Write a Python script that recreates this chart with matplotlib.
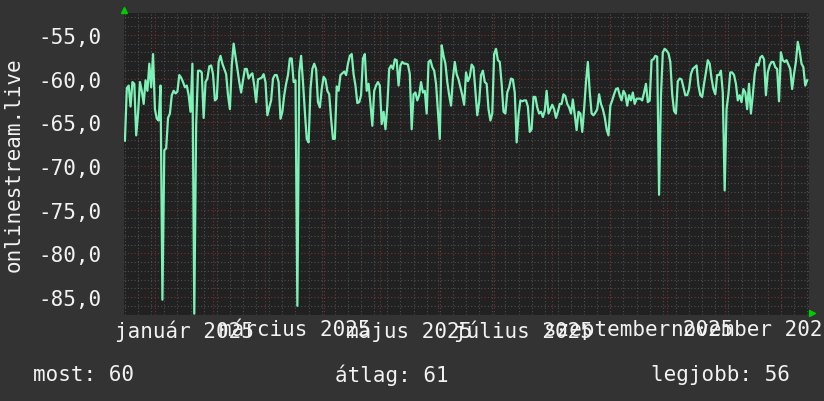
import numpy as np
import pandas as pd
import matplotlib
matplotlib.use('Agg')
import matplotlib.pyplot as plt
import matplotlib.dates as mdates

# napi jelerősség (dBm), 2024-12-15-től
start_date = '2024-12-15'
rssi = [
    np.nan, -67.1, -61.1, -60.8, -63.2, -60.4, -60.6, -66.5, -64.0, -60.4,
    -61.4, -62.9, -60.2, -61.4, -58.3, -61.0, -57.2, -63.5, -64.6, -64.8,
    -60.8, -85.3, -68.2, -68.0, -64.5, -64.0, -61.9, -61.4, -61.7, -61.5,
    -59.6, -59.9, -60.4, -61.0, -60.8, -61.9, -63.8, -58.3, -86.9, -65.3,
    -59.1, -59.1, -59.3, -64.5, -60.4, -60.0, -58.6, -58.5, -59.5, -62.5,
    -62.3, -58.1, -57.4, -58.3, -58.9, -59.5, -61.9, -63.5, -58.5, -56.0,
    -57.5, -58.9, -60.4, -61.6, -60.2, -58.9, -58.9, -60.0, -59.6, -59.4,
    -60.8, -62.7, -60.1, -60.0, -59.9, -59.5, -60.4, -64.2, -63.3, -62.5,
    -60.0, -59.6, -59.6, -60.4, -64.6, -63.8, -61.9, -60.6, -59.6, -57.7,
    -57.7, -60.4, -60.2, -86.0, -59.3, -57.4, -60.4, -63.8, -66.9, -67.3,
    -61.2, -58.9, -58.3, -58.9, -62.7, -63.3, -61.2, -59.8, -60.1, -61.4,
    -61.8, -64.6, -66.9, -66.9, -60.9, -61.4, -59.6, -59.4, -59.2, -59.6,
    -58.3, -57.4, -57.2, -59.5, -60.8, -62.8, -62.7, -61.9, -57.7, -57.2,
    -61.4, -60.6, -62.9, -65.4, -61.4, -60.8, -60.4, -60.8, -65.2, -63.8,
    -65.8, -63.1, -58.9, -58.5, -58.9, -57.8, -57.9, -60.8, -58.5, -58.1,
    -58.3, -58.3, -58.4, -59.5, -65.8, -61.8, -61.6, -62.5, -61.9, -60.4,
    -61.6, -61.4, -64.0, -58.1, -57.9, -58.7, -59.1, -60.6, -63.7, -66.9,
    -56.2, -57.4, -58.3, -60.4, -61.9, -63.1, -60.0, -58.1, -59.5, -60.1,
    -61.0, -61.9, -63.0, -59.3, -60.3, -59.8, -58.4, -58.7, -61.4, -64.2,
    -62.7, -59.6, -59.1, -60.4, -60.6, -63.5, -64.8, -64.0, -57.2, -56.6,
    -57.9, -58.1, -60.6, -63.8, -64.0, -61.6, -61.0, -60.0, -60.1, -61.6,
    -67.3, -64.2, -62.5, -62.6, -62.5, -62.5, -63.2, -66.1, -65.8, -62.1,
    -62.1, -63.3, -64.0, -63.8, -64.4, -63.7, -61.4, -64.0, -63.5, -63.0,
    -63.5, -64.5, -63.8, -62.9, -62.9, -61.8, -62.0, -62.9, -63.3, -64.0,
    -62.4, -64.2, -65.9, -63.8, -64.0, -66.1, -63.5, -60.4, -58.1, -61.5,
    -64.0, -64.2, -63.9, -63.5, -61.8, -62.9, -63.5, -64.4, -65.8, -66.5,
    -63.1, -62.5, -61.8, -61.2, -61.1, -61.9, -62.5, -61.4, -61.8, -63.1,
    -61.9, -62.5, -61.6, -62.9, -62.3, -62.3, -62.3, -62.5, -61.6, -60.6,
    -62.7, -62.5, -57.9, -57.8, -57.4, -57.5, -73.3, -62.0, -57.0, -56.6,
    -56.8, -57.1, -58.1, -61.8, -63.7, -64.0, -60.3, -60.0, -60.1, -61.0,
    -61.9, -61.9, -61.2, -59.5, -58.9, -58.7, -58.5, -60.8, -61.9, -62.1,
    -60.6, -59.3, -57.9, -58.3, -60.0, -61.2, -61.8, -59.6, -59.6, -59.1,
    -61.6, -72.8, -63.5, -61.8, -59.3, -59.3, -59.6, -60.6, -62.5, -61.9,
    -62.7, -61.2, -61.6, -63.5, -60.6, -64.0, -61.9, -59.5, -58.3, -58.5,
    -57.6, -57.4, -57.8, -61.9, -59.3, -58.5, -58.1, -58.1, -58.7, -58.9,
    -62.6, -57.0, -57.9, -58.1, -57.9, -58.4, -58.9, -61.2, -59.5, -58.1,
    -55.8, -56.8, -58.3, -58.7, -60.8, -60.2,
]

label_months = ['2025-01', '2025-03', '2025-05', '2025-07', '2025-09', '2025-11']
month_labels = ['január 2025', 'március 2025', 'május 2025',
                'július 2025', 'szeptember 2025', 'november 2025']
y_ticks = [-55, -60, -65, -70, -75, -80, -85]
summary = [('most', 60), ('átlag', 61), ('legjobb', 56)]
host = 'onlinestream.live'

plt.rcParams['font.family'] = ['DejaVu Sans Mono']

BG = '#333333'
PLOT_BG = '#212121'
LINE = '#7df2b6'
MINOR = '#4e4e4e'
MAJOR = '#7a2e2e'
TXT = '#f2f2f2'

dates = pd.date_range(start_date, periods=len(rssi), freq='D')
t0 = pd.Timestamp(start_date)

fig = plt.figure(figsize=(8.24, 4.02), dpi=100, facecolor=BG)
ax = fig.add_axes([124 / 824, 1 - 316 / 402, 685 / 824, 302 / 402])
ax.set_facecolor(PLOT_BG)

ax.set_xlim(t0 + pd.Timedelta(hours=12), t0 + pd.Timedelta(days=366))
ax.set_ylim(-87.05, -52.5)

# rácsvonalak
x0, x1 = ax.get_xlim()
for d in pd.date_range('2024-12-16', '2025-12-31', freq='W-MON'):
    ax.axvline(d, color=MINOR, lw=0.8, ls=(0, (1, 2)), zorder=1)
for v in range(-87, -52):
    if v % 5:
        ax.axhline(v, color=MINOR, lw=0.8, ls=(0, (1, 2)), zorder=1)
for d in pd.date_range('2025-01-01', '2025-12-01', freq='MS'):
    ax.axvline(d, color=MAJOR, lw=0.8, ls=(0, (1, 2)), zorder=1.5)
for v in y_ticks:
    ax.axhline(v, color=MAJOR, lw=0.8, ls=(0, (1, 2)), zorder=1.5)

ax.plot(dates, rssi, color=LINE, lw=1.6, zorder=3)

# feliratok a hónapok közepén
label_pos = []
for m in label_months:
    s = pd.Timestamp(m + '-01')
    e = s + pd.offsets.MonthBegin(1)
    label_pos.append(s + (e - s) / 2)
ax.set_xticks(label_pos)
ax.set_xticklabels(month_labels)
ax.set_yticks(y_ticks)
ax.set_yticklabels([f'{v:.1f}'.replace('.', ',') for v in y_ticks])
ax.tick_params(axis='both', length=0, colors=TXT, labelsize=15)
ax.tick_params(axis='x', pad=3)
ax.tick_params(axis='y', pad=16)
for s in ax.spines.values():
    s.set_visible(False)

# tengely nyilak
ax.plot([0], [1.01], marker='^', color='#00cc00', ms=4, transform=ax.transAxes, clip_on=False)
ax.plot([1.005], [0.005], marker='>', color='#00cc00', ms=4, transform=ax.transAxes, clip_on=False)

fig.text(14 / 824, 1 - 165 / 402, host, rotation=90, color=TXT, fontsize=15,
         ha='center', va='center')

for (name, val), xpix in zip(summary, [33, 335, 651]):
    fig.text(xpix / 824, 1 - 375 / 402, f'{name}: {val}', color=TXT, fontsize=15,
             ha='left', va='center')

fig.savefig('out.png', dpi=100, facecolor=BG)
